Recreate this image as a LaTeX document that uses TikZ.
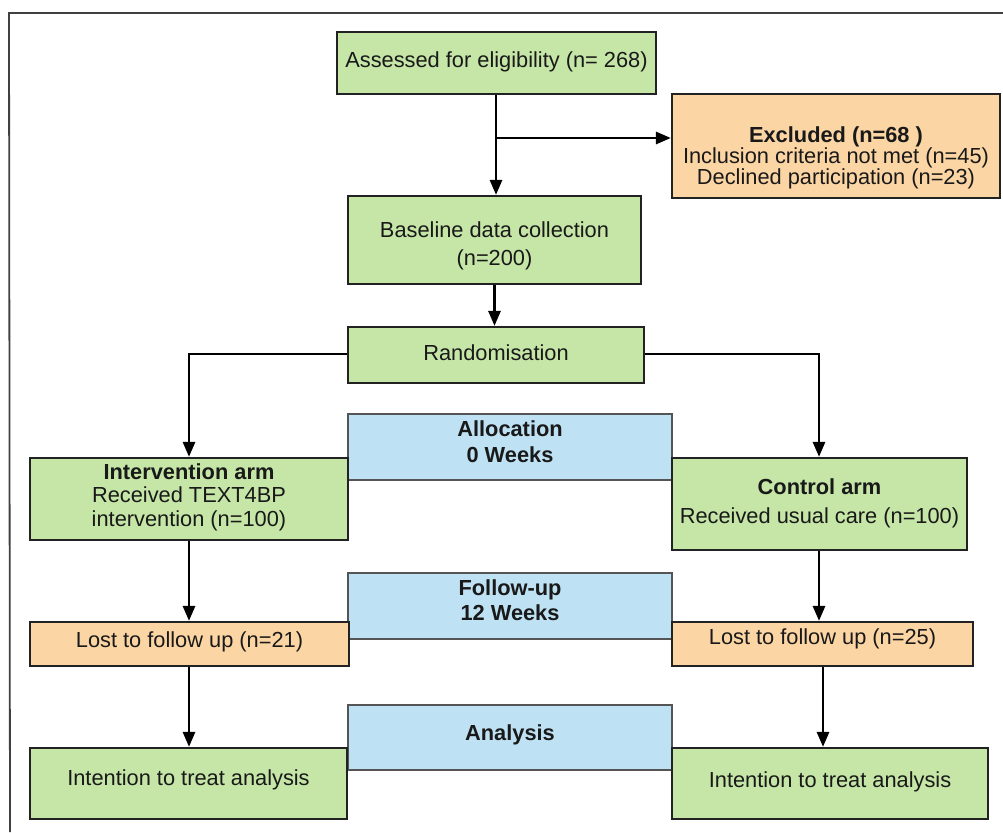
\documentclass[tikz,border=0pt]{standalone}
\usepackage{fontspec}
\setmainfont{Liberation Sans}
\usetikzlibrary{arrows.meta}
\definecolor{gfill}{HTML}{C5E6A7}
\definecolor{ofill}{HTML}{FCD5A4}
\definecolor{bfill}{HTML}{BEE2F4}
\definecolor{edge}{HTML}{222222}
\definecolor{bedge}{HTML}{555555}
\tikzset{
  gbox/.style={draw=edge, line width=2.2pt, fill=gfill, inner sep=0pt},
  obox/.style={draw=edge, line width=2.2pt, fill=ofill, inner sep=0pt},
  bbox/.style={draw=bedge, line width=1.6pt, fill=bfill, inner sep=0pt},
  txt/.style={align=center, inner sep=0pt, text=black!90},
  arr/.style={line width=2.8pt, -{Triangle[length=15pt,width=12pt]}},
  frameline/.style={draw=black!75, line width=1.8pt}
}
\newcommand{\fs}[1]{\fontsize{21.8}{#1}\selectfont}
\begin{document}
\begin{tikzpicture}[x=1pt,y=-1pt]
\useasboundingbox (0,0) rectangle (1003,832);
% frame
\coordinate (f1) at (9,13);
\coordinate (f2) at (1003,13);
\coordinate (f3) at (10,832);
\draw[frameline] (f2) -- (f1) -- ([xshift=1pt]f1 |- f3);

% blue stage boxes
\node[bbox, minimum width=324pt, minimum height=66pt] (alloc) at (510,447) {};
\node[bbox, minimum width=324pt, minimum height=66pt] (follow) at (510,606) {};
\node[bbox, minimum width=324pt, minimum height=65pt] (analysis) at (510,737.5) {};
\node[txt, font=\fs{26}\bfseries] (alloct) at (510,442) {Allocation\\0 Weeks};
\node[txt, font=\fs{25}\bfseries] (followt) at (510,600.5) {Follow-up\\12 Weeks};
\node[txt, font=\fs{25}\bfseries] (analysist) at (510,735) {Analysis};

% green / orange boxes
\node[gbox, minimum width=319pt, minimum height=62pt] (assess) at (496.5,63) {};
\node[txt, font=\fs{25}] (assesst) at (496.5,62) {Assessed for eligibility (n= 268)};

\node[obox, minimum width=328pt, minimum height=104pt] (excl) at (836,146) {};
\node[txt, font=\fs{19}] (exclt) at (836,158) {\textbf{Excluded (n=68 )}\\Inclusion criteria not met (n=45)\\Declined participation (n=23)};

\node[gbox, minimum width=293pt, minimum height=88pt] (base) at (494.5,240) {};
\node[txt, font=\fs{28}] (baset) at (494.5,246) {Baseline data collection\\(n=200)};

\node[gbox, minimum width=296pt, minimum height=56pt] (rand) at (496,355) {};
\node[txt, font=\fs{25}] (randt) at (496,353) {Randomisation};

\node[gbox, minimum width=318pt, minimum height=82pt] (interv) at (189,499) {};
\node[txt, font=\fs{23.5}] (intervt) at (189,497) {\textbf{Intervention arm}\\Received TEXT4BP\\intervention (n=100)};

\node[gbox, minimum width=295pt, minimum height=92pt] (ctrl) at (819.5,504) {};
\node[txt, font=\fs{29}] (ctrlt) at (819.5,503.5) {\textbf{Control arm}\\Received usual care (n=100)};

\node[obox, minimum width=319pt, minimum height=44pt] (lostA) at (189.5,644) {};
\node[txt, font=\fs{25}] (lostAt) at (189.5,642) {Lost to follow up (n=21)};

\node[obox, minimum width=301pt, minimum height=44pt] (lostB) at (822.5,644) {};
\node[txt, font=\fs{25}] (lostBt) at (822.5,639) {Lost to follow up (n=25)};

\node[gbox, minimum width=317pt, minimum height=71pt] (ittA) at (188.5,783.5) {};
\node[txt, font=\fs{25}] (ittAt) at (188.5,780) {Intention to treat analysis};

\node[gbox, minimum width=316pt, minimum height=71pt] (ittB) at (830,783.5) {};
\node[txt, font=\fs{25}] (ittBt) at (830,782) {Intention to treat analysis};

% connectors
\coordinate (branch) at (496,138);
\draw[arr] (assess.south -| branch) -- (base.north -| branch);
\draw[arr] (branch) -- (branch -| excl.west);
\coordinate (bx) at (494.5,0);
\draw[arr] (base.south -| bx) -- (rand.north -| bx);
\coordinate (lx) at (189,354);
\coordinate (rx) at (819,354);
\draw[arr] (rand.west |- lx) -- (lx) -- (interv.north -| lx);
\draw[arr] (rand.east |- rx) -- (rx) -- (ctrl.north -| rx);
\draw[arr] (interv.south -| lx) -- (lostA.north -| lx);
\draw[arr] (ctrl.south -| rx) -- (lostB.north -| rx);
\draw[arr] (lostA.south -| lx) -- (ittA.north -| lx);
\coordinate (rx2) at (823,0);
\draw[arr] (lostB.south -| rx2) -- (ittB.north -| rx2);
\end{tikzpicture}
\end{document}
